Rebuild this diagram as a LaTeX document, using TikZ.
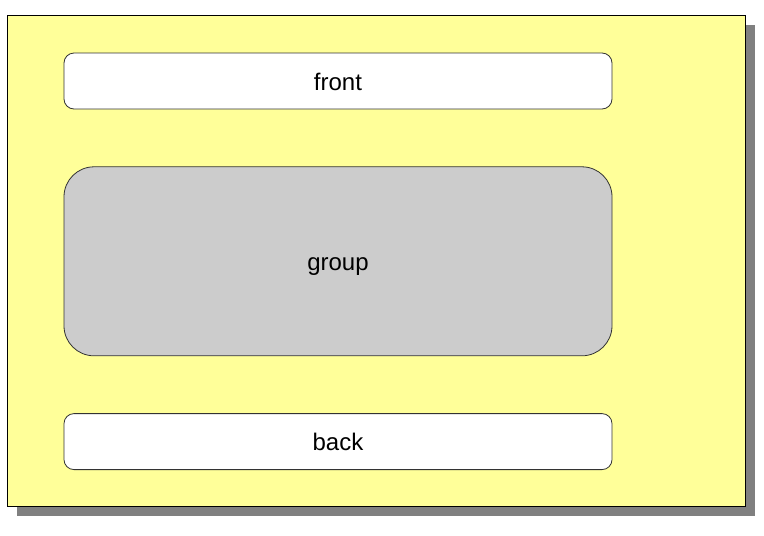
\documentclass[tikz,border=0pt]{standalone}
\usepackage{fontspec}
\setmainfont{Liberation Sans}
\definecolor{panelbg}{RGB}{255,255,153}
\definecolor{groupbg}{RGB}{204,204,204}
\definecolor{shadowgray}{RGB}{128,128,128}
\usetikzlibrary{positioning,shadows}
\tikzset{
  panel/.style={rectangle,
    draw=black,fill=panelbg,line width=1pt,
    minimum width=738pt,minimum height=491pt,
    inner sep=0pt,
    drop shadow={shadow xshift=10pt,shadow yshift=-10pt,
      fill=shadowgray,opacity=1}},
  box_plain/.style={rectangle,rounded corners=10pt,
    draw=black!80,fill=white,line width=0.8pt,
    minimum width=548pt,minimum height=56pt,
    text height=18pt,text depth=0pt,
    inner sep=0pt},
  box_group/.style={rectangle,rounded corners=30pt,
    draw=black!80,fill=groupbg,line width=0.8pt,
    minimum width=548pt,minimum height=189pt,
    text height=18pt,text depth=0pt,
    inner sep=0pt},
}

\begin{document}
\begin{tikzpicture}[node distance=57pt,
                    every node/.style={font=\fontsize{24}{28}\selectfont}]
  \useasboundingbox (0pt,0pt) rectangle (764pt,-536pt);
  \node (panel) [panel] at (376pt,-260.5pt) {};
  \node (front) [box_plain] at (338pt,-81pt) {front};
  \node (group) [box_group, below=of front] {group};
  \node (back) [box_plain, below=of group] {back};
\end{tikzpicture}
\end{document}
